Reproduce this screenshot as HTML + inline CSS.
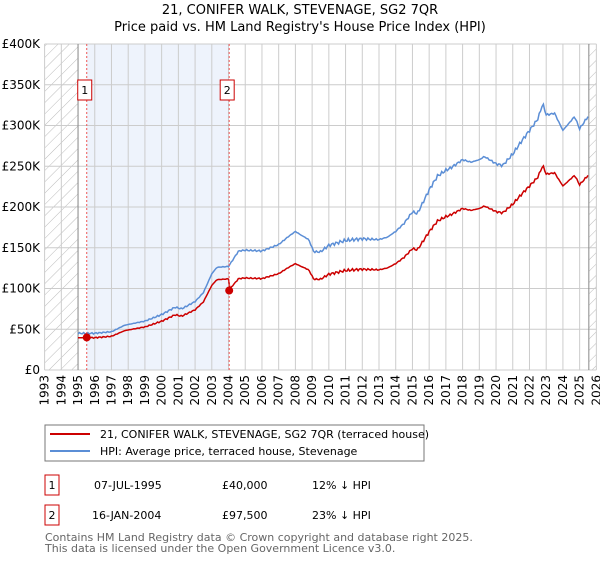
<!DOCTYPE html>
<html><head><meta charset="utf-8"><style>
body{margin:0;background:#fff;font-family:"DejaVu Sans","Liberation Sans",sans-serif;}
</style></head><body>
<svg id="s" width="600" height="560" xmlns="http://www.w3.org/2000/svg" font-family="DejaVu Sans, Liberation Sans, sans-serif">
<defs><pattern id="h" width="8" height="8" patternUnits="userSpaceOnUse" patternTransform="rotate(45)"><line x1="0" y1="0" x2="0" y2="8" stroke="#bbb" stroke-width="1"/></pattern></defs>
<text x="300" y="14" font-size="13" text-anchor="middle">21, CONIFER WALK, STEVENAGE, SG2 7QR</text>
<text x="300" y="31" font-size="13" text-anchor="middle">Price paid vs. HM Land Registry's House Price Index (HPI)</text>
<g id="plot"></g>
<rect x="45" y="425" width="379" height="36" fill="#fff" stroke="#777"/>
<line x1="50" y1="434" x2="90" y2="434" stroke="#cc0000" stroke-width="2"/>
<text x="100" y="438" font-size="11">21, CONIFER WALK, STEVENAGE, SG2 7QR (terraced house)</text>
<line x1="50" y1="451" x2="90" y2="451" stroke="#5b8ed6" stroke-width="2"/>
<text x="100" y="455" font-size="11">HPI: Average price, terraced house, Stevenage</text>
<rect x="45" y="475" width="14" height="20" fill="#fff" stroke="#cc0000"/><text x="52" y="489" font-size="11" text-anchor="middle">1</text>
<text x="94" y="489" font-size="11">07-JUL-1995</text><text x="222" y="489" font-size="11">£40,000</text><text x="312" y="489" font-size="11">12% ↓ HPI</text>
<rect x="45" y="505" width="14" height="20" fill="#fff" stroke="#cc0000"/><text x="52" y="519" font-size="11" text-anchor="middle">2</text>
<text x="92" y="519" font-size="11">16-JAN-2004</text><text x="222" y="519" font-size="11">£97,500</text><text x="312" y="519" font-size="11">23% ↓ HPI</text>
<text x="45" y="541" font-size="11" fill="#666">Contains HM Land Registry data © Crown copyright and database right 2025.</text>
<text x="45" y="552" font-size="11" fill="#666">This data is licensed under the Open Government Licence v3.0.</text>
</svg>
<script>
const X=y=>44.6+(y-1993)*16.72, Y=v=>370-v*0.815;
let g='';
g+=`<rect x="${X(1995.52)}" y="44" width="${X(2004.04)-X(1995.52)}" height="326" fill="#eef3fc"/>`;
g+=`<rect x="44.6" y="44" width="${X(1995)-44.6}" height="326" fill="url(#h)"/>`;
g+=`<rect x="${X(2025.55)}" y="44" width="${596.4-X(2025.55)}" height="326" fill="url(#h)"/>`;
for(let v=0;v<=400;v+=50){g+=`<line x1="44.6" x2="596.4" y1="${Y(v)}" y2="${Y(v)}" stroke="#ccc"/>`;
g+=`<text x="40" y="${Y(v)+4}" font-size="12" text-anchor="end">${v?'£'+v+'K':'£0'}</text>`;}
for(let y=1993;y<=2026;y++){g+=`<line y1="44" y2="370" x1="${X(y)}" x2="${X(y)}" stroke="#ccc"/>`;
g+=`<text transform="translate(${X(y)+4},375) rotate(-90)" font-size="12" text-anchor="end">${y}</text>`;}
g+=`<line x1="${X(1995)}" x2="${X(1995)}" y1="44" y2="370" stroke="#888"/>`;
g+=`<line x1="${X(2025.55)}" x2="${X(2025.55)}" y1="44" y2="370" stroke="#888"/>`;
const P=[[1995,45],[1996,45],[1997,47],[1997.8,55],[1999,60],[2000,68],[2000.8,77],[2001.2,75],[2002,84],[2002.5,95],[2003,118],[2003.3,126],[2004,127],[2004.6,146],[2005,147],[2006,146],[2007,154],[2007.6,164],[2008,170],[2008.3,166],[2008.8,160],[2009.1,145],[2009.5,145],[2010,153],[2011,159],[2012,161],[2013,160],[2013.5,163],[2014,170],[2014.5,180],[2015,194],[2015.3,192],[2016,221],[2016.5,238],[2017,245],[2017.3,248],[2018,258],[2018.5,255],[2019,258],[2019.3,262],[2020,253],[2020.4,251],[2021,265],[2021.5,280],[2022,294],[2022.5,308],[2022.8,327],[2023,313],[2023.5,315],[2024,294],[2024.7,311],[2025,296],[2025.5,311]];
function interp(t){for(let i=0;i<P.length-1;i++){if(t<=P[i+1][0]){const a=P[i],b=P[i+1];return a[1]+(b[1]-a[1])*(t-a[0])/(b[0]-a[0]);}}return P[P.length-1][1];}
let hp='',rp='';
for(let t=1995;t<=2025.5;t+=1/12){let v=interp(t)+(t>2008?2.2:1)*Math.sin(t*37.1)*Math.cos(t*11.3);
hp+=(hp?'L':'M')+X(t).toFixed(1)+','+Y(v).toFixed(1);
let r=t<2004.04?v*0.88:v*0.768;if(t<1995.5)r=39.5;
rp+=(rp?'L':'M')+X(t).toFixed(1)+','+Y(r).toFixed(1);}
g+=`<path d="${hp}" fill="none" stroke="#5b8ed6" stroke-width="1.5"/>`;
g+=`<path d="${rp}" fill="none" stroke="#cc0000" stroke-width="1.5"/>`;
for(const [t,n] of [[1995.52,1],[2004.04,2]]){g+=`<line x1="${X(t)}" x2="${X(t)}" y1="44" y2="370" stroke="#e55" stroke-dasharray="2,2"/>`;
g+=`<rect x="${X(t)-9}" y="80" width="14" height="20" fill="#fff" stroke="#cc0000"/><text x="${X(t)-2}" y="94" font-size="11" text-anchor="middle">${n}</text>`;}
g+=`<circle cx="${X(1995.52)}" cy="${Y(40)}" r="4" fill="#cc0000"/><circle cx="${X(2004.04)}" cy="${Y(97.5)}" r="4" fill="#cc0000"/>`;
document.getElementById('plot').innerHTML=g;
</script>
</body></html>
